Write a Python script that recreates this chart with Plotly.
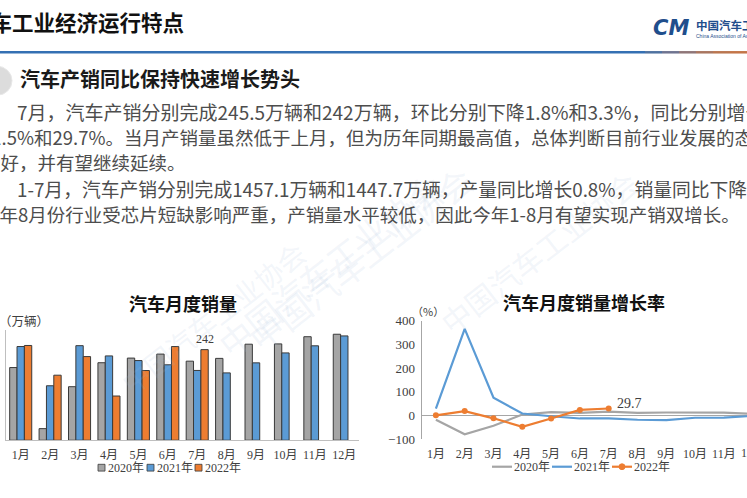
import plotly.graph_objects as go

W, H = 747, 498

# ---------------- data ----------------
months = ["1月", "2月", "3月", "4月", "5月", "6月", "7月", "8月", "9月", "10月", "11月", "12月"]
sales_2020 = [194.1, 31.0, 143.0, 207.0, 219.4, 230.1, 211.2, 218.6, 256.5, 257.3, 276.5, 283.1]
sales_2021 = [250.3, 145.5, 252.6, 225.2, 212.8, 201.5, 186.4, 179.9, 206.7, 233.2, 252.2, 278.6]
sales_2022 = [253.1, 173.7, 223.4, 118.1, 186.2, 250.2, 242.0, None, None, None, None, None]
growth_2020 = [-18.0, -79.1, -43.3, 4.4, 14.5, 11.6, 16.4, 11.6, 12.8, 12.5, 12.6, 6.4]
growth_2021 = [29.5, 364.9, 74.9, 8.6, -3.1, -12.4, -11.9, -17.8, -19.6, -9.4, -9.1, -1.6]
growth_2022 = [0.9, 18.7, -11.7, -47.6, -12.6, 23.8, 29.7, None, None, None, None, None]
series_names = ["2020年", "2021年", "2022年"]
growth_ticks = [-100, 0, 100, 200, 300, 400]

header_title = "汽车工业经济运行特点"
subtitle = "汽车产销同比保持快速增长势头"
body_lines = [
    "7月，汽车产销分别完成245.5万辆和242万辆，环比分别下降1.8%和3.3%，同比分别增长31",
    "31.5%和29.7%。当月产销量虽然低于上月，但为历年同期最高值，总体判断目前行业发展的态势",
    "良好，并有望继续延续。",
    "1-7月，汽车产销分别完成1457.1万辆和1447.7万辆，产量同比增长0.8%，销量同比下降0.5%",
    "去年8月份行业受芯片短缺影响严重，产销量水平较低，因此今年1-8月有望实现产销双增长。",
]

GRAY, BLUE, ORANGE = "#A5A5A5", "#5B9BD5", "#ED7D31"
colors = [GRAY, BLUE, ORANGE]
SERIF = "Liberation Serif, Noto Sans CJK SC"
SANS = "Noto Sans CJK SC"


def fx(x):
    return x / W


def fy(y):
    return 1 - y / H


fig = go.Figure()

# ---------------- bar chart ----------------
for name, vals, c in zip(series_names, [sales_2020, sales_2021, sales_2022], colors):
    fig.add_trace(go.Bar(
        x=months, y=vals, name=name, xaxis="x", yaxis="y",
        marker=dict(color=c, line=dict(color="#3A3A3A", width=1)),
        showlegend=False, hoverinfo="x+y+name",
    ))

# ---------------- line chart ----------------
for name, vals, c in zip(series_names, [growth_2020, growth_2021, growth_2022], colors):
    is_2022 = name == "2022年"
    fig.add_trace(go.Scatter(
        x=months, y=vals, name=name, xaxis="x2", yaxis="y2",
        mode="lines+markers" if is_2022 else "lines",
        line=dict(color=c, width=2.2),
        marker=dict(size=6, color=c),
        showlegend=False,
    ))

right_x0 = 421.5
cat_w2 = 28.8
x2_end = (W - right_x0) / cat_w2 - 0.5

fig.update_layout(
    width=W, height=H,
    margin=dict(l=0, r=0, t=0, b=0),
    paper_bgcolor="white", plot_bgcolor="white",
    barmode="group", bargap=0.25, bargroupgap=0,
    showlegend=False,
    xaxis=dict(
        domain=[fx(6), fx(359)], type="category", categoryarray=months,
        showline=True, linecolor="#BFBFBF", linewidth=1,
        ticks="outside", ticklen=3, tickcolor="rgba(0,0,0,0)",
        tickfont=dict(family=SERIF, size=12, color="#404040"),
        showgrid=False, zeroline=False, anchor="y",
    ),
    yaxis=dict(
        domain=[fy(446.7), fy(333)], range=[0, 294.5],
        showline=True, linecolor="#BFBFBF", linewidth=1,
        showticklabels=False, ticks="", showgrid=False, zeroline=False, anchor="x",
    ),
    xaxis2=dict(
        domain=[fx(right_x0), 1.0], type="category", categoryarray=months,
        range=[-0.5, x2_end],
        showline=False, ticks="outside", ticklen=3, tickcolor="rgba(0,0,0,0)",
        tickfont=dict(family=SERIF, size=12, color="#404040"),
        showgrid=False, zeroline=False, anchor="y2",
    ),
    yaxis2=dict(
        domain=[fy(445.7), fy(323.3)], range=[-100, 400], tickvals=growth_ticks,
        showline=True, linecolor="#A6A6A6", linewidth=1,
        ticks="outside", ticklen=3, tickcolor="rgba(0,0,0,0)",
        tickfont=dict(family=SERIF, size=13, color="#404040"),
        showgrid=False, zeroline=True, zerolinecolor="#A6A6A6", zerolinewidth=1,
        anchor="x2",
    ),
)

ann = []
shapes = []

# watermarks (faint)
for (wx, wy, ws) in [(360, 150, 34), (330, 375, 34), (650, 350, 30), (110, 410, 28)]:
    ann.append(dict(xref="paper", yref="paper", x=fx(wx), y=fy(wy), text="中国汽车工业协会",
                    showarrow=False, textangle=-38,
                    font=dict(family=SANS, size=ws, color="rgba(160,185,215,0.14)")))

# header
ann.append(dict(xref="paper", yref="paper", x=fx(-33), y=fy(15), xanchor="left", yanchor="middle",
                text="<b>" + header_title + "</b>", showarrow=False,
                font=dict(family=SANS, size=21.5, color="#111111")))
# header rule (blue fading to brown)
shapes.append(dict(type="line", xref="paper", yref="paper", x0=0, x1=fx(645), y0=fy(46.7), y1=fy(46.7),
                   line=dict(color="#3470B3", width=2.5)))
grad = ["#4F72A0", "#6F7490", "#8F7678", "#A97660", "#BA7650", "#C47548"]
seg = (W - 645) / len(grad)
for i, gc in enumerate(grad):
    shapes.append(dict(type="line", xref="paper", yref="paper", x0=fx(645 + i * seg), x1=fx(645 + (i + 1) * seg),
                       y0=fy(46.7), y1=fy(46.7), line=dict(color=gc, width=2.5)))
# logo
ann.append(dict(xref="paper", yref="paper", x=fx(651), y=fy(22), xanchor="left", yanchor="middle",
                text="<b><i>CM</i></b>", showarrow=False,
                font=dict(family="DejaVu Sans", size=21, color="#1F4E8C")))
ann.append(dict(xref="paper", yref="paper", x=fx(694), y=fy(18.5), xanchor="left", yanchor="middle",
                text="<b>中国汽车工业协会</b>", showarrow=False,
                font=dict(family=SANS, size=11.5, color="#1F4E8C")))
ann.append(dict(xref="paper", yref="paper", x=fx(694), y=fy(29.5), xanchor="left", yanchor="middle",
                text="China Association of Automobile Manufacturers", showarrow=False,
                font=dict(family="Liberation Sans", size=5, color="#1F4E8C")))

# subtitle bullet circle
shapes.append(dict(type="circle", xref="paper", yref="paper", x0=fx(-18), x1=fx(12), y0=fy(91), y1=fy(61),
                   fillcolor="#DCDCDC", line=dict(color="#E8E8E8", width=1)))
ann.append(dict(xref="paper", yref="paper", x=fx(18), y=fy(73.5), xanchor="left", yanchor="middle",
                text="<b>" + subtitle + "</b>", showarrow=False,
                font=dict(family=SANS, size=20, color="#1A1A1A")))

# body
line_x = [15, -21, -20, 15, -21]
line_y = [108, 134, 160, 187, 213]
line_size = [19, 18.5, 18.5, 18.8, 18.5]
for t, lx, ly, ls in zip(body_lines, line_x, line_y, line_size):
    ann.append(dict(xref="paper", yref="paper", x=fx(lx), y=fy(ly), xanchor="left", yanchor="middle",
                    text=t, showarrow=False, font=dict(family=SANS, size=ls, color="#4D4D4D")))

# chart titles & units
ann.append(dict(xref="paper", yref="paper", x=fx(183), y=fy(305), xanchor="center", yanchor="middle",
                text="<b>汽车月度销量</b>", showarrow=False, font=dict(family=SANS, size=18, color="#111111")))
ann.append(dict(xref="paper", yref="paper", x=fx(584), y=fy(304), xanchor="center", yanchor="middle",
                text="<b>汽车月度销量增长率</b>", showarrow=False, font=dict(family=SANS, size=18, color="#111111")))
ann.append(dict(xref="paper", yref="paper", x=fx(-3), y=fy(323), xanchor="left", yanchor="middle",
                text="（万辆）", showarrow=False, font=dict(family=SANS, size=12.5, color="#404040")))
ann.append(dict(xref="paper", yref="paper", x=fx(428), y=fy(313), xanchor="center", yanchor="middle",
                text="（%）", showarrow=False, font=dict(family=SANS, size=11, color="#404040")))

# data labels
ann.append(dict(xref="x", yref="y", x=months[6], y=sales_2022[6], xshift=7.5, yshift=2,
                xanchor="center", yanchor="bottom", text=f"{sales_2022[6]:g}", showarrow=False,
                font=dict(family=SERIF, size=12, color="#404040")))
ann.append(dict(xref="x2", yref="y2", x=months[6], y=growth_2022[6], xshift=6, yshift=5,
                xanchor="left", yanchor="middle", text=f"{growth_2022[6]:g}", showarrow=False,
                font=dict(family=SERIF, size=14, color="#404040")))

# partially visible last category of the right chart
ann.append(dict(xref="paper", yref="paper", x=fx(right_x0 + cat_w2 * 11.5), y=fy(460),
                xanchor="center", yanchor="middle", text=months[11], showarrow=False,
                font=dict(family=SERIF, size=12, color="#404040")))

# left legend (manual, compact like the original)
leg_x = [98, 147, 195]
for name, c, lx in zip(series_names, colors, leg_x):
    shapes.append(dict(type="rect", xref="paper", yref="paper", x0=fx(lx), x1=fx(lx + 7),
                       y0=fy(478.5), y1=fy(471.5), fillcolor=c, line=dict(color="#3A3A3A", width=0.8)))
    ann.append(dict(xref="paper", yref="paper", x=fx(lx + 8), y=fy(475), xanchor="left", yanchor="middle",
                    text=name, showarrow=False, font=dict(family=SERIF, size=12, color="#404040")))

# right legend
leg2_x = [492, 552, 612]
for name, c, lx in zip(series_names, colors, leg2_x):
    shapes.append(dict(type="line", xref="paper", yref="paper", x0=fx(lx), x1=fx(lx + 20),
                       y0=fy(474), y1=fy(474), line=dict(color=c, width=2.2)))
    if name == "2022年":
        shapes.append(dict(type="circle", xref="paper", yref="paper", x0=fx(lx + 7), x1=fx(lx + 13),
                           y0=fy(477), y1=fy(471), fillcolor=c, line=dict(color=c, width=1)))
    ann.append(dict(xref="paper", yref="paper", x=fx(lx + 20), y=fy(474), xanchor="left", yanchor="middle",
                    text=name, showarrow=False, font=dict(family=SERIF, size=12, color="#404040")))

fig.update_layout(annotations=ann, shapes=shapes)
fig.write_html(
    "out.html",
    config={"displayModeBar": False},
    post_script="document.body.style.margin='0px';document.body.style.overflow='hidden';",
)
